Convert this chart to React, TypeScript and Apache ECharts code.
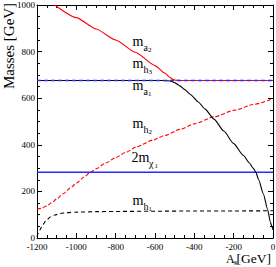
import React, { useEffect, useRef } from "react";
import * as echarts from "echarts";

// ---- data ----
const xTicks = [-1200, -1000, -800, -600, -400, -200, 0];
const yTicks = [0, 200, 400, 600, 800, 1000];

const ma2X = [-1110, -1000, -900, -800, -700, -600, -550, -525, -510, -495, -470, 0];
const ma2Y = [1000, 946, 897, 850, 797, 740, 708, 690, 681, 677, 676, 676];

const mh3X = [-1200, 0];
const mh3Y = [676, 676];

const ma1X = [-1200, -560, -535, -515, -500, -473, -450, -420, -380, -345, -300, -250, -201, -150, -120, -100, -87, -73, -50, -27, -14, -5, 0];
const ma1Y = [676, 676, 675, 672, 667, 653, 638, 616, 584, 553, 510, 459, 406, 354, 322, 299, 282, 250, 192, 122, 70, 48, 35];

const mh2X = [-1200, -1180, -1150, -1120, -1100, -1067, -1030, -1000, -960, -931, -900, -850, -800, -750, -693, -612, -550, -473, -400, -300, -192, -100, 0];
const mh2Y = [124, 127, 138, 155, 168, 190, 215, 235, 262, 280, 297, 322, 345, 367, 392, 420, 440, 466, 490, 520, 549, 573, 598];

const mchiX = [-1200, 0];
const mchiY = [282, 282];

const mh1X = [-1200, -1195, -1186, -1170, -1152, -1130, -1110, -1080, -1050, -1000, -900, -800, -600, -400, -200, 0];
const mh1Y = [5, 18, 34, 58, 77, 91, 99, 105, 109, 111, 113, 114, 115, 116, 116, 117];

const zip = (xs: number[], ys: number[]) => xs.map((x, i) => [x, ys[i]]);

const SERIF = "Liberation Serif, DejaVu Serif, serif";

// text helper: baseline-positioned text (middle alignment compensated)
const t = (x: number, baseline: number, text: string, size: number) => ({
  type: "text",
  x,
  y: baseline - 0.3375 * size,
  z: 100,
  style: {
    text,
    fontSize: size,
    fontFamily: SERIF,
    fill: "#000",
    align: "left",
    verticalAlign: "middle",
  },
});

// mass label: main text, subscript, sub-subscript
const massLabel = (main: string, sub: string, subsub: string, x: number, b: number, mainW: number, subW: number) => [
  t(x, b, main, 14),
  t(x + mainW, b + 4.5, sub, 10),
  t(x + mainW + subW, b + 6.5, subsub, 7),
];

export default function App() {
  const ref = useRef<HTMLDivElement>(null);

  useEffect(() => {
    if (!ref.current) return;
    const chart = echarts.init(ref.current, undefined, { renderer: "svg" });

    const axisCommon = {
      axisLine: { show: true, onZero: false, lineStyle: { color: "#000", width: 1 } },
      axisTick: { show: true, inside: true, length: 5, lineStyle: { color: "#000", width: 1 } },
      minorTick: { show: true, splitNumber: 4, length: 3, lineStyle: { color: "#000", width: 1 } },
      splitLine: { show: false },
      minorSplitLine: { show: false },
    };

    const labelStyle = {
      fontSize: 9,
      fontFamily: SERIF,
      color: "#000",
      formatter: (v: number) => String(v),
    };

    const lineSeries = (name: string, xs: number[], ys: number[], color: string, width: number, type: any, smooth: number | boolean, z: number) => ({
      name,
      type: "line",
      data: zip(xs, ys),
      showSymbol: false,
      symbol: "none",
      smooth,
      smoothMonotone: "x",
      z,
      lineStyle: { color, width, type },
      emphasis: { disabled: true },
    });

    chart.setOption({
      animation: false,
      textStyle: { fontFamily: SERIF },
      grid: { left: 37, right: 3, top: 5, bottom: 29, outerBoundsMode: "none", containLabel: false },
      xAxis: [
        {
          type: "value",
          position: "bottom",
          min: xTicks[0],
          max: xTicks[xTicks.length - 1],
          interval: 200,
          ...axisCommon,
          axisLabel: { show: true, margin: 4, ...labelStyle },
        },
        {
          type: "value",
          position: "top",
          min: xTicks[0],
          max: xTicks[xTicks.length - 1],
          interval: 200,
          ...axisCommon,
          axisLabel: { show: false },
        },
      ],
      yAxis: [
        {
          type: "value",
          position: "left",
          min: yTicks[0],
          max: yTicks[yTicks.length - 1],
          interval: 200,
          ...axisCommon,
          axisLabel: { show: true, margin: 2, ...labelStyle },
        },
        {
          type: "value",
          position: "right",
          min: yTicks[0],
          max: yTicks[yTicks.length - 1],
          interval: 200,
          ...axisCommon,
          axisLabel: { show: false },
        },
      ],
      series: [
        lineSeries("m_h1", mh1X, mh1Y, "#000", 1.1, [4, 3], 0.25, 2),
        lineSeries("m_h2", mh2X, mh2Y, "#ff0000", 1.1, [4, 2], 0.25, 2),
        lineSeries("2m_chi1", mchiX, mchiY, "#2a2aff", 1.6, "solid", false, 2),
        lineSeries("m_a1", ma1X, ma1Y, "#000", 1.1, "solid", 0.2, 3),
        lineSeries("m_a2", ma2X, ma2Y, "#ff0000", 1.1, "solid", 0.2, 3),
        lineSeries("m_h3", mh3X, mh3Y, "#2a2aff", 1.3, [4, 3], false, 4),
      ],
      graphic: [
        {
          type: "text",
          x: 8.5,
          y: 46,
          rotation: Math.PI / 2,
          style: {
            text: "Masses [GeV]",
            fontSize: 15,
            fontFamily: SERIF,
            fill: "#000",
            align: "center",
            verticalAlign: "middle",
          },
        },
        t(226, 262.7, "A", 12),
        t(234, 265.5, "κ", 8),
        t(236.5, 262.7, "[GeV]", 13.5),
        ...massLabel("m", "a", "2", 132.5, 46, 10.9, 4.6),
        ...massLabel("m", "h", "3", 132.5, 68, 10.9, 5.1),
        ...massLabel("m", "a", "1", 132.5, 90, 10.9, 4.6),
        ...massLabel("m", "h", "2", 132.5, 128, 10.9, 5.1),
        ...massLabel("2m", "χ", "1", 131.5, 162, 17.6, 5.4),
        ...massLabel("m", "h", "1", 132.5, 205, 10.9, 5.1),
      ],
    });

    return () => chart.dispose();
  }, []);

  return (
    <div
      ref={ref}
      style={{ position: "fixed", left: 0, top: 0, width: 276, height: 267, background: "#fff" }}
    />
  );
}
